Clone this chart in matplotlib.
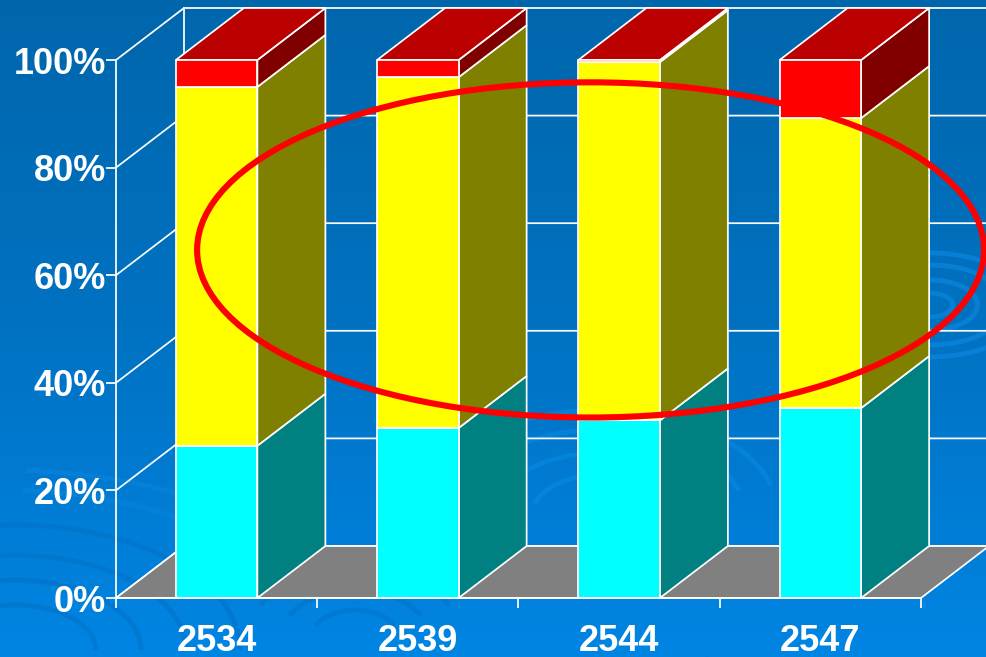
import numpy as np
import matplotlib
matplotlib.use("Agg")
import matplotlib.pyplot as plt
from matplotlib.patches import Polygon, Ellipse, Arc
from matplotlib.colors import LinearSegmentedColormap

# Data (percent of total, stacked)
years = ["2534", "2539", "2544", "2547"]
cyan_pct = [28.3, 31.6, 33.0, 35.3]
yellow_pct = [66.7, 65.2, 66.6, 53.9]
red_pct = [5.0, 3.2, 0.4, 10.8]
y_ticks = [0, 20, 40, 60, 80, 100]

# Styles
W, H = 987, 657
front_cols = ["#00FFFF", "#FFFF00", "#FF0000"]
side_cols = ["#008080", "#808000", "#800000"]
top_col = "#BB0000"
floor_col = "#808080"
LW = 1.25
plt.rcParams["font.family"] = ["Liberation Sans", "DejaVu Sans"]

fig = plt.figure(figsize=(W / 100, H / 100), dpi=100)

# Background
bg = fig.add_axes([0, 0, 1, 1], zorder=0)
cmap = LinearSegmentedColormap.from_list("bg", ["#0166AC", "#0072C2", "#0085E3"])
bg.imshow(np.linspace(0, 1, 256).reshape(-1, 1), cmap=cmap, aspect="auto",
          extent=[0, W, H, 0])
ripples = [
    (15, 650, 1.8, 1.0, [45, 70, 95, 125], 180, 360, "#0070C4", 0.5),
    (0, 620, 2.2, 1.0, [130, 150], 280, 345, "#0A84DC", 0.6),
    (355, 640, 1.5, 1.0, [30, 50, 72], 200, 340, "#0072C6", 0.5),
    (600, 515, 1.7, 1.0, [40, 62, 85, 105], 190, 350, "#0A90EC", 0.45),
    (930, 305, 1.9, 1.0, [12, 25, 40, 52], 0, 360, "#0A86DE", 0.7),
    (660, 640, 2.0, 1.0, [30], 20, 160, "#0076CC", 0.5),
]
for cx, cy, sx, sy, radii, a0, a1, col, alpha in ripples:
    for r in radii:
        bg.add_patch(Arc((cx, cy), 2 * r * sx, 2 * r * sy, theta1=a0, theta2=a1,
                         color=col, lw=3.5, alpha=alpha))
bg.set_xlim(0, W)
bg.set_ylim(H, 0)
bg.axis("off")

# Chart axes: 116..921 px wide, 60..598 px high
ax = fig.add_axes([116 / W, 1 - 598 / H, (921 - 116) / W, (598 - 60) / H], zorder=1)
ax.patch.set_alpha(0)
n = len(years)
ax.set_xlim(-0.5, n - 0.5)
ax.set_ylim(0, 100)
dx, dy = 68 / 201.25, 52 / 5.38
bw = 0.405

# Walls and floor
ax.add_patch(Polygon([(-0.5, 0), (n - 0.5, 0), (n - 0.5 + dx, dy), (-0.5 + dx, dy)],
                     fc=floor_col, ec="white", lw=LW, clip_on=False, zorder=2))
for t in y_ticks:
    ax.plot([-0.5, -0.5 + dx, n - 0.5 + dx], [t, t + dy, t + dy], color="white", lw=LW,
            clip_on=False, zorder=1.5, solid_joinstyle="miter")
ax.plot([-0.5 + dx, -0.5 + dx], [dy, 100 + dy], color="white", lw=LW, clip_on=False, zorder=1.5)

# Bars
for i in range(n):
    bottom = 0
    z = 3 + i
    xl, xr = i - bw / 2, i + bw / 2
    for vals, fc, sc in zip((cyan_pct, yellow_pct, red_pct), front_cols, side_cols):
        v = vals[i]
        ax.add_patch(Polygon([(xr, bottom), (xr + dx, bottom + dy), (xr + dx, bottom + v + dy),
                              (xr, bottom + v)], fc=sc, ec="white", lw=LW, clip_on=False, zorder=z))
        ax.bar(i, v, bw, bottom=bottom, color=fc, edgecolor="white", linewidth=LW,
               clip_on=False, zorder=z + 0.5)
        bottom += v
    ax.add_patch(Polygon([(xl, bottom), (xr, bottom), (xr + dx, bottom + dy), (xl + dx, bottom + dy)],
                         fc=top_col, ec="white", lw=LW, clip_on=False, zorder=z + 0.4))

# Highlight ellipse
ax.add_patch(Ellipse((1.858, 64.7), 3.91, 62.3, fc="none", ec="#FF0000", lw=4.4,
                     clip_on=False, zorder=20))

# Axes
for s in ("top", "right"):
    ax.spines[s].set_visible(False)
for s in ("left", "bottom"):
    ax.spines[s].set_color("white")
    ax.spines[s].set_linewidth(LW)
    ax.spines[s].set_zorder(15)
ax.set_yticks(y_ticks)
ax.set_yticklabels([f"{t}%" for t in y_ticks])
ax.set_xticks(range(n))
ax.set_xticklabels(years)
ax.set_xticks(np.arange(-0.5, n), minor=True)
ax.tick_params(axis="y", colors="white", length=7.2, width=LW, pad=0, labelsize=26)
ax.tick_params(axis="x", which="major", colors="white", length=0, pad=19, labelsize=26)
ax.tick_params(axis="x", which="minor", colors="white", length=7.2, width=LW)
for lab in ax.get_xticklabels() + ax.get_yticklabels():
    lab.set_fontweight("bold")

fig.savefig("out.png", dpi=100)
